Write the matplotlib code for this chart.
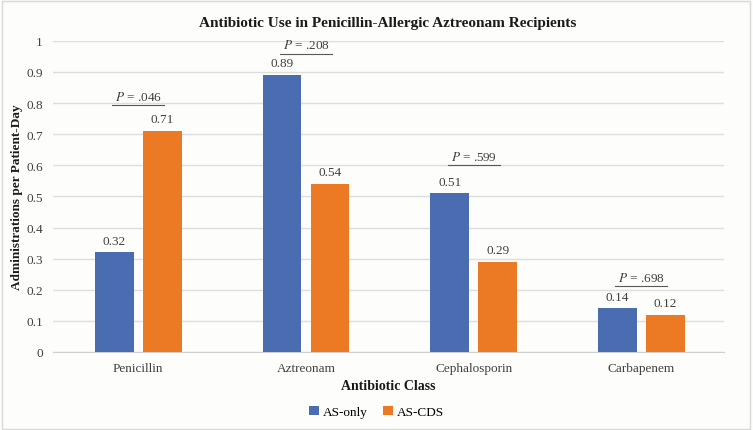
import matplotlib.pyplot as plt
import numpy as np
from matplotlib.patches import Rectangle

# Data
categories = ["Penicillin", "Aztreonam", "Cephalosporin", "Carbapenem"]
as_only = [0.32, 0.89, 0.51, 0.14]
as_cds = [0.71, 0.54, 0.29, 0.12]
p_labels = [".046", ".208", ".599", ".698"]
p_heights = [0.793, 0.958, 0.60, 0.212]

plt.rcParams["font.family"] = ["Liberation Serif", "DejaVu Serif"]
plt.rcParams["mathtext.fontset"] = "stix"

fig = plt.figure(figsize=(7.53, 4.31), dpi=100, facecolor="#fdfdfb")
ax = fig.add_axes([0.070, 0.181, 0.891, 0.722])
ax.set_facecolor("#fdfdfb")

# light border around the whole figure
fig.patches.append(Rectangle((0.002, 0.003), 0.994, 0.993, transform=fig.transFigure,
                             fill=False, edgecolor="#d9d9d9", linewidth=1))

x = np.arange(len(categories))
w = 0.232
off = 0.143
b1 = ax.bar(x - off + 0.01, as_only, w, color="#4a6cb1", label="AS-only", zorder=3)
b2 = ax.bar(x + off + 0.01, as_cds, w, color="#ec7a24", label="AS-CDS", zorder=3)

for bars in (b1, b2):
    for r in bars:
        ax.text(r.get_x() + r.get_width() / 2, r.get_height() + 0.018, f"{r.get_height():.2f}",
                ha="center", va="bottom", fontsize=9.5, color="#404040")

# p-value brackets
for i, (p, h) in enumerate(zip(p_labels, p_heights)):
    ax.plot([i - 0.145, i + 0.165], [h, h], color="#595959", linewidth=0.8, zorder=4)
    ax.text(i + 0.01, h + 0.008, r"$\it{P}$ = " + p, ha="center", va="bottom", fontsize=9.5, color="#404040")

ax.set_xlim(-0.5, 3.5)
ax.set_ylim(0, 1)
ax.set_yticks(np.arange(0, 1.01, 0.1))
ax.set_yticklabels(["0", "0.1", "0.2", "0.3", "0.4", "0.5", "0.6", "0.7", "0.8", "0.9", "1"])
ax.set_xticks(x + 0.01)
ax.set_xticklabels(categories)
ax.tick_params(axis="both", length=0, labelsize=9.5, colors="#404040", pad=7)
ax.grid(axis="y", color="#dedede", linewidth=1, zorder=0)
for s in ["top", "right", "left"]:
    ax.spines[s].set_visible(False)
ax.spines["bottom"].set_color("#d0d0d0")

ax.set_title("Antibiotic Use in Penicillin-Allergic Aztreonam Recipients",
             fontsize=11, fontweight="bold", color="#1a1a1a", pad=11)
ax.set_xlabel("Antibiotic Class", fontsize=10, fontweight="bold", color="#1a1a1a", labelpad=4)
fig.text(17 / 753, 0.181 + 0.722 * 0.5, "Administrations per Patient-Day", rotation=90,
         ha="center", va="center", fontsize=9.5, fontweight="bold", color="#1a1a1a")

fig.legend(loc="lower center", bbox_to_anchor=(0.5, 0.0), ncol=2, frameon=False,
           fontsize=9.5, handlelength=0.7, handleheight=0.7, handletextpad=0.3, columnspacing=1.2)

fig.savefig("out.png", dpi=100, facecolor=fig.get_facecolor())
